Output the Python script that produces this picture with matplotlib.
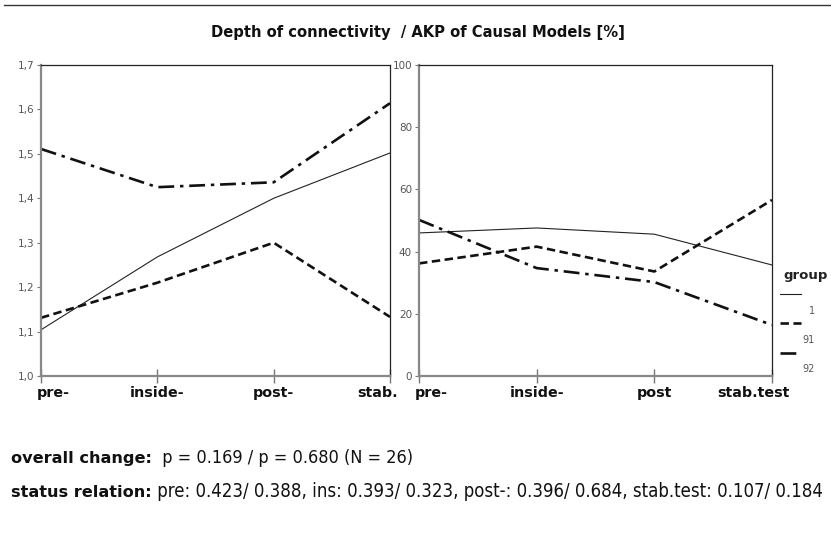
import matplotlib
matplotlib.use("Agg")
import matplotlib.pyplot as plt
from matplotlib.lines import Line2D
from matplotlib.transforms import ScaledTranslation

# ---------------- data ----------------
left_labels = ["pre-", "inside-", "post-", "stab."]
right_labels = ["pre-", "inside-", "post", "stab.test"]
groups = ["1", "91", "92"]

depth_g1 = [1.104, 1.268, 1.400, 1.502]
depth_g91 = [1.131, 1.210, 1.300, 1.133]
depth_g92 = [1.511, 1.425, 1.436, 1.614]

akp_g1 = [46.0, 47.6, 45.6, 35.7]
akp_g91 = [36.2, 41.6, 33.6, 56.6]
akp_g92 = [50.2, 34.7, 30.2, 16.4]

left_yticks = [1.0, 1.1, 1.2, 1.3, 1.4, 1.5, 1.6, 1.7]
left_yticklabels = ["1,0", "1,1", "1,2", "1,3", "1,4", "1,5", "1,6", "1,7"]
right_yticks = [0, 20, 40, 60, 80, 100]

title = "Depth of connectivity  / AKP of Causal Models [%]"
line1_bold = "overall change:"
line1_rest = "  p = 0.169 / p = 0.680 (N = 26)"
line2_bold = "status relation:"
line2_rest = " pre: 0.423/ 0.388, ins: 0.393/ 0.323, post-: 0.396/ 0.684, stab.test: 0.107/ 0.184"

# ---------------- styles ----------------
W, H = 831, 534
fig = plt.figure(figsize=(W / 100, H / 100), dpi=100)
fig.patch.set_facecolor("white")

styles = [
    dict(color="#222222", lw=0.8, linestyle="-"),
    dict(color="#111111", lw=1.9, linestyle=(0, (3.2, 1.7))),
    dict(color="#111111", lw=1.9, linestyle=(0, (6.0, 2.2, 1.3, 2.2))),
]

def fx(px):
    return px / W

def fy(py):
    return 1 - py / H

axL = fig.add_axes([fx(41), fy(376), fx(390) - fx(41), fy(65) - fy(376)])
axR = fig.add_axes([fx(419), fy(376), fx(772) - fx(419), fy(65) - fy(376)])

xs = list(range(4))
for ax, series, labels in [
    (axL, [depth_g1, depth_g91, depth_g92], left_labels),
    (axR, [akp_g1, akp_g91, akp_g92], right_labels),
]:
    for s, st in zip(series, styles):
        ax.plot(xs, s, solid_capstyle="butt", dash_capstyle="butt", **st)
    ax.set_xlim(0, 3)
    ax.set_xticks(xs)
    ax.set_xticklabels(labels, fontsize=10.3, fontweight="bold", color="#111111")
    ax.tick_params(axis="x", direction="inout", length=10, width=1, color="#777777", pad=2)
    ax.tick_params(axis="y", direction="out", length=3, width=0.8, color="#777777",
                   labelsize=7.5, labelcolor="#555555", pad=2)
    for side in ["left", "bottom"]:
        ax.spines[side].set_color("#888888")
        ax.spines[side].set_linewidth(1.6)
    for side in ["top", "right"]:
        ax.spines[side].set_color("#222222")
        ax.spines[side].set_linewidth(0.9)
    tl = ax.get_xticklabels()
    tl[0].set_ha("left")
    tl[-1].set_ha("right")

axL.set_ylim(1.0, 1.7)
axL.set_yticks(left_yticks)
axL.set_yticklabels(left_yticklabels)
axR.set_ylim(0, 100)
axR.set_yticks(right_yticks)

# small offsets for end labels
def shift(label, dx_px):
    label.set_transform(label.get_transform() + ScaledTranslation(dx_px / 100, 0, fig.dpi_scale_trans))

shift(axL.get_xticklabels()[0], -4)
shift(axL.get_xticklabels()[-1], 8)
shift(axR.get_xticklabels()[0], -4)
shift(axR.get_xticklabels()[-1], 18)

# title and top rule
fig.text(fx(418), fy(33), title, ha="center", va="center", fontsize=10.6, color="#111111",
         fontweight="semibold")
fig.add_artist(Line2D([fx(4), fx(831)], [fy(5), fy(5)], color="#333333", lw=1.0))

# legend (custom placement)
fig.text(fx(806), fy(276), "group", ha="center", va="center", fontsize=9.5,
         fontweight="bold", color="#222222")
leg_y = [294, 323, 353]
lab_y = [311, 340, 369]
for st, g, ly, ty in zip(styles, groups, leg_y, lab_y):
    fig.add_artist(Line2D([fx(780), fx(801)], [fy(ly), fy(ly)], dash_capstyle="butt", **st))
    fig.text(fx(815), fy(ty), g, ha="right", va="center", fontsize=7, color="#555555")

# bottom text lines
fig.canvas.draw()
renderer = fig.canvas.get_renderer()
for (b, r, y, rs) in [(line1_bold, line1_rest, 463, 13.0), (line2_bold, line2_rest, 497, 13.35)]:
    t = fig.text(fx(11), fy(y), b, ha="left", va="baseline", fontsize=11.6,
                 fontweight="bold", color="#111111")
    bb = t.get_window_extent(renderer)
    fig.text(bb.x1 / W, fy(y), r, ha="left", va="baseline", fontsize=rs,
             color="#111111", fontstretch="condensed")

fig.savefig("out.png", dpi=100, facecolor="white")
